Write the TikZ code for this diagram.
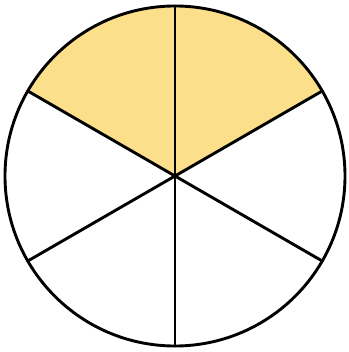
\documentclass[tikz,border=0pt]{standalone}
\usepackage{tikz}
\definecolor{sectoryellow}{RGB}{252,223,138}
\tikzset{edge/.style={line width=2.9pt,black,line cap=round,line join=round}}
\begin{document}
\begin{tikzpicture}[x=1pt,y=-1pt]
\useasboundingbox (0,0) rectangle (348,352);
\coordinate (c) at (175,176);
\def\R{170}
\fill[sectoryellow] (c) -- ++(-30:\R) arc[start angle=-30,end angle=-150,x radius=\R,y radius=\R] -- cycle;
\foreach \a in {30,90,150,210,270,330}{
  \draw[edge] (c) -- ++(\a:\R);
}
\draw[edge] (c) circle[radius=\R];
\end{tikzpicture}
\end{document}
